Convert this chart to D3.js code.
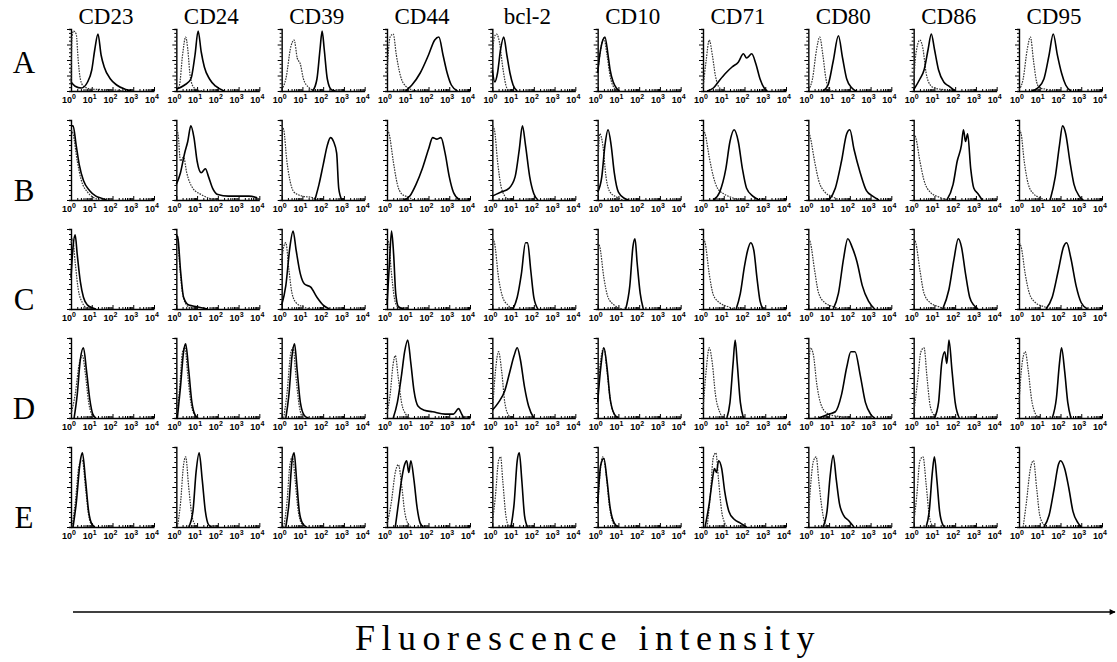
<!DOCTYPE html>
<html>
<head>
<meta charset="utf-8">
<script src="https://cdn.jsdelivr.net/npm/d3@7"></script>
<style>
  body { margin: 0; background: #fff; }
  svg { display: block; }
</style>
</head>
<body>
<svg id="chart" width="1117" height="662"></svg>
<script>
// markers (columns) and cell lines (rows)
const markers = ['CD23', 'CD24', 'CD39', 'CD44', 'bcl-2', 'CD10', 'CD71', 'CD80', 'CD86', 'CD95']
const rowLetters = ['A', 'B', 'C', 'D', 'E']
const decades = [0, 1, 2, 3, 4]

// histogram outlines: [log10 intensity, relative count]
// ctrl = dotted isotype control, stain = solid specific antibody
const ctrlA = [
  [[0,0.15],[0.05,0.9],[0.12,1.0],[0.25,0.95],[0.35,0.5],[0.45,0.2],[0.6,0.08],[1.0,0.03],[2.0,0.02],[2.5,0]],
  [[0,0.02],[0.15,0.1],[0.3,0.6],[0.45,0.9],[0.55,0.7],[0.65,0.3],[0.8,0.08],[1.0,0.02],[1.3,0]],
  [[0,0.02],[0.2,0.2],[0.45,0.75],[0.6,0.85],[0.75,0.55],[0.9,0.45],[1.05,0.2],[1.3,0.06],[1.6,0]],
  [[0,0.3],[0.15,0.9],[0.3,0.95],[0.45,0.6],[0.65,0.25],[0.9,0.08],[1.2,0.02],[1.5,0]],
  [[0,0.6],[0.1,0.9],[0.2,0.95],[0.35,0.8],[0.5,0.4],[0.65,0.1],[0.8,0]],
  [[0,0.3],[0.15,0.7],[0.3,0.88],[0.45,0.6],[0.6,0.25],[0.8,0.05],[1.0,0]],
  [[0,0.05],[0.15,0.5],[0.3,0.85],[0.45,0.6],[0.6,0.25],[0.8,0.05],[1.1,0]],
  [[0,0.02],[0.2,0.2],[0.4,0.7],[0.55,0.9],[0.7,0.6],[0.85,0.2],[1.0,0.03],[1.2,0]],
  [[0,0.1],[0.1,0.6],[0.3,0.85],[0.45,0.7],[0.6,0.3],[0.8,0.1],[1.0,0.05],[1.5,0.02],[1.8,0]],
  [[0,0.02],[0.2,0.2],[0.4,0.7],[0.55,0.9],[0.7,0.5],[0.85,0.15],[1.0,0.05],[1.3,0.03],[1.6,0]]
]
const stainA = [
  [[0,0.15],[0.2,0.08],[0.5,0.05],[0.8,0.15],[1.0,0.35],[1.15,0.7],[1.3,0.95],[1.45,0.6],[1.6,0.4],[1.9,0.2],[2.2,0.1],[2.6,0.03],[2.9,0]],
  [[0,0.03],[0.4,0.1],[0.7,0.2],[0.9,0.6],[1.05,1.0],[1.2,0.65],[1.35,0.4],[1.6,0.2],[1.9,0.08],[2.3,0]],
  [[1.5,0],[1.7,0.2],[1.85,0.7],[1.95,1.0],[2.05,0.7],[2.2,0.2],[2.4,0.02],[2.6,0]],
  [[0.9,0],[1.2,0.1],[1.6,0.3],[2.0,0.6],[2.3,0.85],[2.5,0.9],[2.7,0.6],[2.9,0.3],[3.1,0.1],[3.4,0]],
  [[0,0.35],[0.12,0.15],[0.25,0.3],[0.4,0.7],[0.55,0.9],[0.7,0.6],[0.85,0.3],[1.0,0.1],[1.2,0]],
  [[0,0.3],[0.1,0.6],[0.25,0.85],[0.35,0.9],[0.5,0.6],[0.6,0.35],[0.75,0.15],[0.9,0.05],[1.05,0]],
  [[0.2,0],[0.5,0.05],[0.8,0.18],[1.1,0.3],[1.4,0.4],[1.7,0.48],[1.95,0.62],[2.1,0.55],[2.35,0.62],[2.55,0.45],[2.75,0.2],[2.95,0.05],[3.1,0]],
  [[0.7,0],[0.95,0.1],[1.2,0.5],[1.45,0.92],[1.65,0.55],[1.85,0.2],[2.1,0.05],[2.3,0]],
  [[0,0.02],[0.3,0.2],[0.5,0.35],[0.7,0.7],[0.85,0.95],[1.0,0.7],[1.2,0.35],[1.45,0.15],[1.7,0.08],[2.0,0]],
  [[0.6,0],[0.9,0.05],[1.2,0.2],[1.45,0.6],[1.65,0.95],[1.85,0.6],[2.05,0.3],[2.25,0.1],[2.5,0]]
]
const ctrlB = [
  [[0,0.9],[0.1,0.85],[0.3,0.5],[0.5,0.25],[0.8,0.1],[1.1,0.03],[1.4,0]],
  [[0,0.9],[0.08,0.85],[0.2,0.5],[0.35,0.55],[0.5,0.35],[0.8,0.15],[1.2,0.07],[1.6,0.02],[2.0,0]],
  [[0,0.95],[0.1,0.9],[0.25,0.5],[0.4,0.25],[0.6,0.1],[1.0,0.05],[1.5,0.03],[1.7,0]],
  [[0,0.9],[0.1,0.85],[0.3,0.5],[0.5,0.2],[0.7,0.08],[1.0,0.04],[1.3,0]],
  [[0,0.95],[0.1,0.9],[0.25,0.5],[0.4,0.2],[0.6,0.05],[0.8,0]],
  [[0,0.3],[0.1,0.85],[0.25,0.7],[0.4,0.3],[0.6,0.1],[0.9,0.04],[1.2,0]],
  [[0,0.9],[0.1,0.85],[0.3,0.55],[0.5,0.3],[0.7,0.15],[1.0,0.08],[1.4,0.03],[1.8,0]],
  [[0,0.9],[0.1,0.8],[0.3,0.5],[0.5,0.25],[0.8,0.1],[1.1,0.05],[1.5,0]],
  [[0,0.85],[0.1,0.8],[0.3,0.5],[0.5,0.25],[0.8,0.1],[1.2,0.04],[1.6,0]],
  [[0,0.9],[0.1,0.85],[0.25,0.5],[0.45,0.2],[0.7,0.08],[1.0,0.03],[1.3,0]]
]
const stainB = [
  [[0,0.95],[0.1,0.95],[0.25,0.7],[0.4,0.45],[0.6,0.25],[0.9,0.12],[1.2,0.05],[1.5,0.02],[1.7,0]],
  [[0,0.2],[0.2,0.35],[0.4,0.6],[0.55,0.75],[0.7,0.95],[0.85,0.8],[1.0,0.5],[1.2,0.35],[1.4,0.4],[1.55,0.3],[1.75,0.15],[2.0,0.07],[2.5,0.05],[3.0,0.05],[3.5,0.05],[3.9,0.03]],
  [[1.6,0],[1.8,0.2],[2.0,0.45],[2.2,0.7],[2.35,0.8],[2.5,0.75],[2.65,0.6],[2.75,0.15],[2.9,0]],
  [[0.8,0],[1.1,0.05],[1.4,0.2],[1.7,0.4],[2.0,0.65],[2.2,0.8],[2.4,0.78],[2.6,0.8],[2.8,0.6],[3.0,0.3],[3.2,0.1],[3.5,0]],
  [[0,0.05],[0.4,0.1],[0.8,0.15],[1.1,0.3],[1.3,0.65],[1.45,0.95],[1.6,0.7],[1.8,0.3],[2.0,0.08],[2.2,0]],
  [[0,0.1],[0.2,0.3],[0.35,0.7],[0.5,0.9],[0.65,0.7],[0.8,0.35],[1.0,0.1],[1.3,0.02],[1.5,0]],
  [[0.5,0],[0.8,0.1],[1.1,0.4],[1.3,0.75],[1.5,0.9],[1.7,0.75],[1.9,0.4],[2.1,0.15],[2.4,0.05],[2.7,0]],
  [[1.0,0],[1.3,0.15],[1.6,0.5],[1.85,0.85],[2.0,0.9],[2.2,0.65],[2.5,0.35],[2.8,0.12],[3.1,0.05],[3.4,0]],
  [[1.6,0],[1.9,0.2],[2.1,0.5],[2.3,0.7],[2.4,0.9],[2.5,0.75],[2.6,0.85],[2.75,0.4],[2.9,0.15],[3.1,0.08],[3.3,0]],
  [[1.5,0],[1.75,0.3],[1.95,0.7],[2.1,0.95],[2.25,0.85],[2.45,0.5],[2.65,0.2],[2.9,0.05],[3.1,0]]
]
const ctrlC = [
  [[0,0.85],[0.08,0.9],[0.2,0.6],[0.35,0.25],[0.55,0.08],[0.8,0]],
  [[0,0.9],[0.05,0.95],[0.15,0.6],[0.3,0.2],[0.5,0.05],[0.8,0]],
  [[0,0.6],[0.1,0.8],[0.2,0.85],[0.35,0.5],[0.5,0.2],[0.7,0.08],[1.0,0.03],[1.4,0]],
  [[0,0.9],[0.08,0.85],[0.2,0.5],[0.35,0.15],[0.5,0.03],[0.7,0]],
  [[0,0.9],[0.1,0.85],[0.3,0.4],[0.5,0.15],[0.75,0.05],[1.0,0]],
  [[0,0.85],[0.1,0.8],[0.3,0.4],[0.5,0.15],[0.8,0.05],[1.2,0]],
  [[0,0.9],[0.1,0.85],[0.3,0.45],[0.5,0.18],[0.8,0.08],[1.2,0.03],[1.5,0]],
  [[0,0.9],[0.1,0.85],[0.3,0.5],[0.5,0.2],[0.8,0.08],[1.2,0.03],[1.5,0]],
  [[0,0.9],[0.1,0.85],[0.3,0.5],[0.5,0.2],[0.8,0.08],[1.2,0.03],[1.5,0]],
  [[0,0.85],[0.1,0.8],[0.3,0.45],[0.5,0.2],[0.8,0.08],[1.2,0.03],[1.5,0]]
]
const stainC = [
  [[0,0.4],[0.1,0.8],[0.2,0.95],[0.3,0.7],[0.45,0.35],[0.6,0.15],[0.8,0.05],[1.0,0.02],[1.2,0]],
  [[0,0.95],[0.08,0.9],[0.2,0.5],[0.35,0.15],[0.6,0.05],[1.0,0.03],[1.5,0]],
  [[0,0.05],[0.2,0.3],[0.4,0.8],[0.55,1.0],[0.7,0.75],[0.9,0.45],[1.1,0.32],[1.4,0.28],[1.7,0.15],[2.0,0.05],[2.3,0]],
  [[0,0.05],[0.12,0.6],[0.22,1.0],[0.32,0.7],[0.42,0.2],[0.55,0.03],[0.8,0]],
  [[1.0,0],[1.2,0.15],[1.4,0.45],[1.6,0.85],[1.7,0.85],[1.85,0.5],[2.0,0.15],[2.2,0]],
  [[1.35,0],[1.55,0.3],[1.7,0.8],[1.8,0.9],[1.9,0.6],[2.05,0.2],[2.2,0]],
  [[1.6,0],[1.8,0.2],[2.0,0.55],[2.15,0.75],[2.3,0.85],[2.45,0.75],[2.6,0.4],[2.75,0.1],[2.9,0]],
  [[1.2,0],[1.45,0.2],[1.7,0.65],[1.9,0.9],[2.1,0.8],[2.35,0.6],[2.6,0.3],[2.9,0.1],[3.2,0]],
  [[1.4,0],[1.7,0.25],[1.95,0.65],[2.15,0.9],[2.3,0.8],[2.5,0.45],[2.7,0.15],[2.9,0.05],[3.1,0]],
  [[1.3,0],[1.6,0.15],[1.9,0.5],[2.15,0.8],[2.3,0.85],[2.5,0.65],[2.75,0.3],[3.0,0.08],[3.3,0]]
]
const ctrlD = [
  [[0,0.05],[0.2,0.3],[0.4,0.7],[0.55,0.8],[0.7,0.55],[0.85,0.2],[1.0,0.05],[1.2,0]],
  [[0,0.05],[0.15,0.35],[0.3,0.85],[0.42,0.9],[0.55,0.55],[0.7,0.2],[0.9,0.03],[1.0,0]],
  [[0.1,0],[0.25,0.3],[0.45,0.85],[0.55,0.9],[0.7,0.5],[0.85,0.15],[1.0,0]],
  [[0,0.05],[0.15,0.3],[0.3,0.7],[0.4,0.8],[0.55,0.5],[0.7,0.2],[0.9,0.05],[1.1,0]],
  [[0,0.05],[0.15,0.6],[0.3,0.85],[0.45,0.6],[0.6,0.2],[0.8,0.03],[1.0,0]],
  [[0,0.3],[0.15,0.75],[0.3,0.9],[0.45,0.6],[0.6,0.25],[0.8,0.05],[1.0,0]],
  [[0,0.1],[0.15,0.6],[0.3,0.9],[0.45,0.7],[0.6,0.3],[0.8,0.08],[1.0,0]],
  [[0,0.5],[0.1,0.9],[0.25,0.8],[0.4,0.45],[0.6,0.18],[0.9,0.06],[1.2,0.03],[1.5,0.02],[1.8,0]],
  [[0,0.05],[0.2,0.5],[0.35,0.85],[0.5,0.9],[0.65,0.5],[0.8,0.15],[1.0,0.03],[1.2,0]],
  [[0,0.2],[0.15,0.7],[0.3,0.85],[0.45,0.6],[0.6,0.25],[0.8,0.05],[1.0,0]]
]
const stainD = [
  [[0.15,0],[0.3,0.3],[0.45,0.75],[0.6,0.9],[0.75,0.6],[0.9,0.25],[1.05,0.05],[1.2,0]],
  [[0.05,0],[0.2,0.4],[0.35,0.85],[0.45,0.95],[0.6,0.6],[0.75,0.2],[0.9,0.04],[1.05,0]],
  [[0.2,0],[0.35,0.3],[0.5,0.8],[0.62,0.95],[0.75,0.6],[0.9,0.2],[1.1,0.03],[1.3,0]],
  [[0.3,0],[0.5,0.2],[0.7,0.55],[0.85,0.85],[1.0,1.0],[1.15,0.7],[1.3,0.35],[1.5,0.15],[1.8,0.1],[2.2,0.08],[2.8,0.05],[3.2,0.05],[3.45,0.12],[3.6,0.05],[3.7,0]],
  [[0,0.1],[0.3,0.2],[0.6,0.35],[0.85,0.6],[1.05,0.8],[1.2,0.9],[1.35,0.75],[1.55,0.4],[1.75,0.15],[2.0,0]],
  [[0,0.2],[0.15,0.65],[0.3,0.9],[0.45,0.65],[0.6,0.25],[0.8,0.05],[1.0,0]],
  [[1.15,0],[1.3,0.2],[1.45,0.7],[1.55,1.0],[1.65,0.7],[1.8,0.2],[1.95,0]],
  [[0.5,0],[1.0,0.05],[1.3,0.08],[1.6,0.3],[1.85,0.65],[2.05,0.85],[2.25,0.85],[2.5,0.55],[2.75,0.2],[3.0,0.05],[3.2,0]],
  [[1.0,0],[1.2,0.2],[1.35,0.7],[1.5,0.85],[1.6,0.7],[1.7,1.0],[1.85,0.6],[2.0,0.2],[2.2,0]],
  [[1.6,0],[1.8,0.25],[1.95,0.7],[2.05,0.9],[2.2,0.6],[2.35,0.2],[2.5,0]]
]
const ctrlE = [
  [[0.05,0],[0.2,0.3],[0.4,0.8],[0.55,0.85],[0.7,0.5],[0.85,0.15],[1.0,0.03],[1.2,0]],
  [[0.05,0],[0.2,0.3],[0.35,0.8],[0.45,0.9],[0.6,0.5],[0.75,0.15],[0.9,0.03],[1.0,0]],
  [[0.1,0],[0.25,0.3],[0.4,0.8],[0.52,0.9],[0.65,0.6],[0.8,0.2],[1.0,0.03],[1.2,0]],
  [[0,0.03],[0.2,0.3],[0.4,0.7],[0.55,0.8],[0.7,0.55],[0.85,0.2],[1.0,0.05],[1.2,0]],
  [[0,0.05],[0.15,0.4],[0.3,0.85],[0.4,0.9],[0.5,0.6],[0.65,0.15],[0.8,0]],
  [[0,0.2],[0.12,0.7],[0.25,0.9],[0.4,0.7],[0.55,0.3],[0.75,0.05],[0.9,0]],
  [[0.2,0],[0.35,0.4],[0.5,0.9],[0.62,0.95],[0.75,0.6],[0.9,0.2],[1.05,0.05],[1.2,0]],
  [[0,0.1],[0.1,0.5],[0.25,0.85],[0.38,0.9],[0.5,0.6],[0.65,0.25],[0.8,0.05],[1.0,0]],
  [[0,0.05],[0.15,0.4],[0.3,0.85],[0.45,0.9],[0.6,0.55],[0.75,0.15],[0.9,0.02],[1.0,0]],
  [[0.2,0],[0.35,0.3],[0.55,0.75],[0.7,0.85],[0.85,0.5],[1.0,0.15],[1.2,0.03],[1.4,0]]
]
const stainE = [
  [[0.1,0],[0.25,0.3],[0.45,0.85],[0.55,0.95],[0.7,0.6],[0.85,0.2],[1.0,0.04],[1.15,0]],
  [[0.6,0],[0.8,0.2],[0.95,0.7],[1.1,0.95],[1.25,0.6],[1.4,0.2],[1.55,0.03],[1.7,0]],
  [[0.2,0],[0.35,0.3],[0.5,0.85],[0.6,0.95],[0.72,0.6],[0.85,0.2],[1.0,0.05],[1.2,0]],
  [[0.4,0],[0.55,0.3],[0.7,0.6],[0.85,0.8],[0.95,0.85],[1.05,0.7],[1.15,0.85],[1.3,0.6],[1.45,0.25],[1.6,0.05],[1.75,0]],
  [[0.9,0],[1.05,0.3],[1.2,0.85],[1.3,0.95],[1.42,0.6],[1.55,0.15],[1.7,0]],
  [[0,0.3],[0.15,0.8],[0.3,0.88],[0.45,0.6],[0.6,0.25],[0.8,0.05],[1.0,0]],
  [[0.1,0],[0.3,0.3],[0.45,0.6],[0.55,0.75],[0.65,0.7],[0.75,0.85],[0.9,0.75],[1.05,0.45],[1.25,0.2],[1.5,0.1],[1.8,0.05],[2.1,0]],
  [[0.7,0],[0.9,0.2],[1.05,0.65],[1.2,0.92],[1.35,0.6],[1.5,0.3],[1.7,0.15],[1.95,0.08],[2.2,0]],
  [[0.6,0],[0.75,0.2],[0.9,0.7],[1.0,0.9],[1.12,0.6],[1.25,0.2],[1.4,0.03],[1.5,0]],
  [[1.2,0],[1.45,0.15],[1.7,0.5],[1.9,0.8],[2.0,0.85],[2.2,0.75],[2.4,0.5],[2.6,0.2],[2.85,0.05],[3.0,0]]
]

const controls = [ctrlA, ctrlB, ctrlC, ctrlD, ctrlE]
const stains = [stainA, stainB, stainC, stainD, stainE]

const svg = d3.select('#chart')
const serif = 'Liberation Serif, Times New Roman, serif'

const panelW = 83
// top row is a little shorter than the others in the original figure
const panelHeight = (row) => row == 0 ? 62 : 80
const colX = d3.scaleLinear().domain([0, 9]).range([71, 1019])
const rowBase = d3.scaleLinear().domain([0, 4]).range([91, 527])
const letterY = [73, 201, 310, 419, 528]

const x = d3.scaleLog().domain([1, 1e4]).range([0, panelW])

// column headers
svg.append('g').selectAll('text')
  .data(markers)
  .join('text')
  .attr('x', (d, i) => colX(i) + 35)
  .attr('y', 24)
  .attr('text-anchor', 'middle')
  .attr('font-family', serif)
  .attr('font-size', 23)
  .text(d => d)

// row letters
svg.append('g').selectAll('text')
  .data(rowLetters)
  .join('text')
  .attr('x', 24)
  .attr('y', (d, i) => letterY[i])
  .attr('text-anchor', 'middle')
  .attr('font-family', serif)
  .attr('font-size', 31)
  .text(d => d)

const cells = []
rowLetters.forEach((r, ri) => {
  markers.forEach((m, ci) => {
    cells.push({row: ri, col: ci, ctrl: controls[ri][ci], stain: stains[ri][ci]})
  })
})

const panel = svg.append('g').selectAll('g.panel')
  .data(cells)
  .join('g')
  .attr('class', 'panel')
  .attr('transform', d => `translate(${colX(d.col)},${rowBase(d.row)})`)

// y axis: ruler style ticks
panel.append('g')
  .each(function (d) {
    const yAxisScale = d3.scaleLinear().domain([0, 1]).range([0, -panelHeight(d.row)])
    d3.select(this).call(d3.axisLeft(yAxisScale)
      .tickValues(d3.range(0, 1.0001, 0.0625))
      .tickSize(2)
      .tickFormat(''))
  })
  .call(g => g.selectAll('.tick line')
    .attr('x2', (d, i) => i % 4 == 0 ? -4 : -2))
  .call(g => g.selectAll('.domain').attr('stroke-width', 1.4))

// x axis: log decades
const minorTicks = []
decades.slice(0, 4).forEach(e => {
  d3.range(1, 10).forEach(k => minorTicks.push(k * Math.pow(10, e)))
})
minorTicks.push(1e4)

panel.append('g')
  .call(d3.axisBottom(x)
    .tickValues(minorTicks)
    .tickSize(-2)
    .tickSizeOuter(0)
    .tickFormat(''))
  .call(g => g.selectAll('.tick line')
    .attr('y2', d => Number.isInteger(Math.log10(d)) ? -4 : -2))
  .call(g => g.selectAll('.domain').attr('stroke-width', 1.4))

const tickLabel = panel.append('g')
  .selectAll('text')
  .data(decades)
  .join('text')
  .attr('x', d => x(Math.pow(10, d)) - 2)
  .attr('y', 12)
  .attr('text-anchor', 'middle')
  .attr('font-family', 'Liberation Sans, Arial, sans-serif')
  .attr('font-weight', 'bold')
  .attr('font-size', 9)

tickLabel.append('tspan').text('10')
tickLabel.append('tspan')
  .attr('dy', -4)
  .attr('font-size', 7)
  .text(d => d)

// histograms
function histLine(row) {
  const y = d3.scaleLinear().domain([0, 1]).range([0, -panelHeight(row) + 2])
  return d3.line()
    .x(d => x(Math.pow(10, d[0])))
    .y(d => y(d[1]))
    .curve(d3.curveMonotoneX)
}

panel.append('path')
  .attr('d', d => histLine(d.row)(d.ctrl))
  .attr('fill', 'none')
  .attr('stroke', '#333')
  .attr('stroke-width', 1.2)
  .attr('stroke-dasharray', '1.6,1.1')

panel.append('path')
  .attr('d', d => histLine(d.row)(d.stain))
  .attr('fill', 'none')
  .attr('stroke', '#000')
  .attr('stroke-width', 1.6)

// arrow
svg.append('defs').append('marker')
  .attr('id', 'arrowhead')
  .attr('viewBox', '0 0 10 10')
  .attr('refX', 9)
  .attr('refY', 5)
  .attr('markerWidth', 10)
  .attr('markerHeight', 6)
  .attr('markerUnits', 'userSpaceOnUse')
  .attr('orient', 'auto')
  .append('path')
  .attr('d', 'M0,0 L10,5 L0,10 Z')
  .attr('fill', '#000')

svg.append('line')
  .attr('x1', 73)
  .attr('x2', 1115)
  .attr('y1', 612)
  .attr('y2', 612)
  .attr('stroke', '#000')
  .attr('stroke-width', 1.5)
  .attr('marker-end', 'url(#arrowhead)')

svg.append('text')
  .attr('x', 588)
  .attr('y', 650)
  .attr('text-anchor', 'middle')
  .attr('font-family', serif)
  .attr('font-size', 36)
  .attr('letter-spacing', 6.5)
  .text('Fluorescence intensity')
</script>
</body>
</html>
